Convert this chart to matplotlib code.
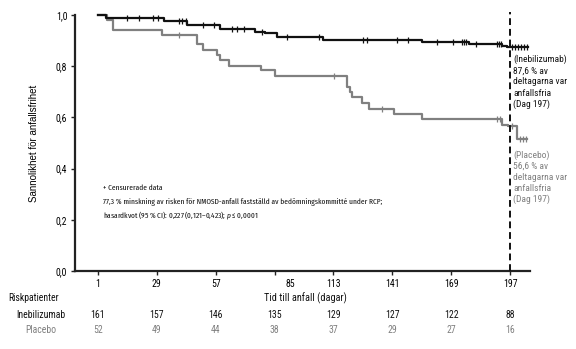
import matplotlib.pyplot as plt
import matplotlib.transforms as mtransforms

# kaplan-meier data (day, survival after step)
ineb_days = [1, 4.8, 32.4, 43.3, 59.0, 75.7, 80.4, 86.2, 108.0, 155.1, 177.5, 193.2, 195.6, 205.6]
ineb_surv = [1.0, 0.990, 0.975, 0.962, 0.946, 0.934, 0.930, 0.913, 0.904, 0.896, 0.886, 0.879, 0.876, 0.876]
ineb_cens = [14.8, 20.5, 27.2, 29.5, 39.5, 41.0, 42.9, 51.0, 56.2, 64.7, 67.1, 70.4, 79.0, 90.9,
             106.1, 127.1, 129.0, 143.3, 148.5, 162.3, 169.9, 174.2, 175.1, 176.1, 180.8, 190.8,
             191.8, 192.7, 198.0, 199.4, 200.8, 202.2, 203.7, 205.1]

plac_days = [1, 5.3, 8.1, 31.4, 48.1, 51.0, 57.6, 59.0, 63.3, 78.5, 85.2, 119.5, 120.9, 121.8,
             126.6, 129.9, 141.8, 155.1, 193.2, 196.1, 200.3, 205.1]
plac_surv = [1.0, 0.980, 0.940, 0.923, 0.886, 0.865, 0.843, 0.826, 0.802, 0.784, 0.761, 0.720,
             0.700, 0.681, 0.655, 0.633, 0.613, 0.593, 0.572, 0.566, 0.514, 0.514]
plac_cens = [39.5, 113.3, 136.1, 190.8, 192.2, 198.0, 201.8, 203.2, 204.6]

xticks = [1, 29, 57, 85, 113, 141, 169, 197]
yticks = [0.0, 0.2, 0.4, 0.6, 0.8, 1.0]
ytick_labels = ["0,0", "0,2", "0,4", "0,6", "0,8", "1,0"]
ineb_risk = [161, 157, 146, 135, 129, 127, 122, 88]
plac_risk = [52, 49, 44, 38, 37, 29, 27, 16]

BLACK = "#111111"
GREY = "#808080"
COND = ["Roboto Condensed", "Liberation Sans", "DejaVu Sans"]
XCOND = ["Fira Sans Extra Condensed", "Roboto Condensed", "DejaVu Sans"]

plt.rcParams["font.family"] = COND
plt.rcParams["mathtext.fontset"] = "custom"
plt.rcParams["mathtext.it"] = "Fira Sans Extra Condensed:italic"
plt.rcParams["mathtext.rm"] = "Fira Sans Extra Condensed"

fig = plt.figure(figsize=(5.76, 3.49), dpi=100)
ax = fig.add_axes([75 / 576, 78 / 349, 455 / 576, 256 / 349])


def km_value(days, surv, t):
    v = surv[0]
    for d, s in zip(days, surv):
        if d <= t:
            v = s
    return v


ax.step(ineb_days, ineb_surv, where="post", color=BLACK, lw=1.6, clip_on=False, zorder=3)
ax.step(plac_days, plac_surv, where="post", color=GREY, lw=1.6, clip_on=False, zorder=2)
ax.plot(ineb_cens, [km_value(ineb_days, ineb_surv, t) for t in ineb_cens], ls="none",
        marker="|", ms=4.5, mew=0.9, color=BLACK, clip_on=False, zorder=3)
ax.plot(plac_cens, [km_value(plac_days, plac_surv, t) for t in plac_cens], ls="none",
        marker="|", ms=4.5, mew=0.9, color=GREY, clip_on=False, zorder=2)

# day 197 marker
ax.plot([197, 197], [0, 1.012], color=BLACK, lw=1.4, ls=(0, (3.5, 2)), clip_on=False, zorder=4)

ax.set_xlim(-9.9, 206.5)
ax.set_ylim(0, 1.0)
ax.set_xticks(xticks)
ax.set_xticklabels([str(x) for x in xticks], fontsize=7)
ax.set_yticks(yticks)
ax.set_yticklabels(ytick_labels, fontsize=7)
ax.tick_params(direction="out", length=3, width=1, color="#222222", pad=2.5)
for s in ["top", "right"]:
    ax.spines[s].set_visible(False)
for s in ["left", "bottom"]:
    ax.spines[s].set_linewidth(1.6)
    ax.spines[s].set_color("#222222")

# the "85" label sits a bit right of its tick in the original
lab85 = ax.get_xticklabels()[3]
lab85.set_transform(lab85.get_transform() + mtransforms.ScaledTranslation(0.16, 0, fig.dpi_scale_trans))

ax.set_ylabel("Sannolikhet för anfallsfrihet", fontsize=7, family=["Liberation Sans", "DejaVu Sans"],
              labelpad=12)

ax.text(3.4, 0.324, "+ Censurerade data", fontsize=5.8, va="center", color=BLACK, family=XCOND)
ax.text(3.4, 0.271, "77,3 % minskning av risken för NMOSD-anfall fastställd av bedömningskommitté under RCP;",
        fontsize=5.8, va="center", color=BLACK, family=XCOND)
ax.text(3.4, 0.219, r"hasardkvot (95 % CI): 0,227 (0,121–0,423); $\it{p}$ ≤ 0,0001",
        fontsize=5.8, va="center", color=BLACK, family=XCOND)

ax.text(198.4, 0.845, "(Inebilizumab)\n87,6 % av\ndeltagarna var\nanfallsfria\n(Dag 197)",
        fontsize=6.8, va="top", ha="left", color=BLACK, linespacing=1.3, clip_on=False)
ax.text(198.4, 0.47, "(Placebo)\n56,6 % av\ndeltagarna var\nanfallsfria\n(Dag 197)",
        fontsize=6.8, va="top", ha="left", color=GREY, linespacing=1.25, clip_on=False)

# risk table under the axis
trans = mtransforms.blended_transform_factory(ax.transData, fig.transFigure)
fig.text(8 / 576, 1 - 298 / 349, "Riskpatienter", fontsize=7, va="center", color=BLACK)
fig.text(305 / 576, 1 - 298 / 349, "Tid till anfall (dagar)", fontsize=7.4, va="center", ha="center",
         color=BLACK)
fig.text(41 / 576, 1 - 315 / 349, "Inebilizumab", fontsize=7, va="center", ha="center", color=BLACK)
fig.text(41 / 576, 1 - 330 / 349, "Placebo", fontsize=7, va="center", ha="center", color=GREY)
for x, a, b in zip(xticks, ineb_risk, plac_risk):
    ax.text(x, 1 - 315 / 349, str(a), transform=trans, fontsize=7, ha="center", va="center", color=BLACK)
    ax.text(x, 1 - 330 / 349, str(b), transform=trans, fontsize=7, ha="center", va="center", color=GREY)

fig.savefig("out.png", dpi=100)
